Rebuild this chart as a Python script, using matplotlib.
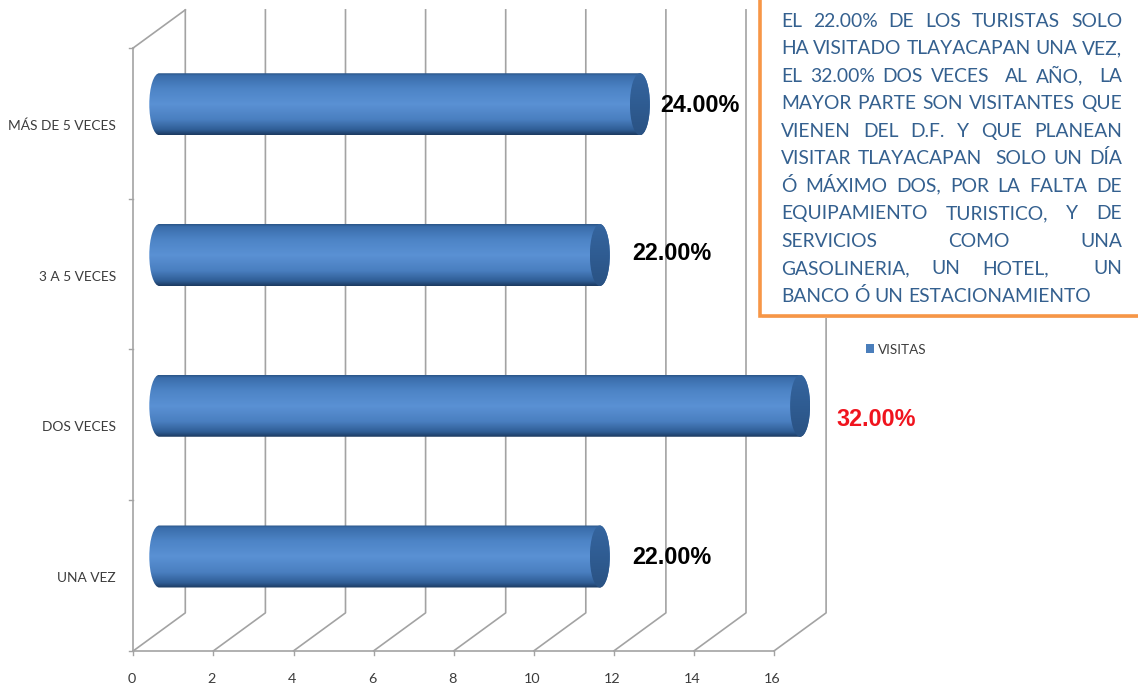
import numpy as np
import matplotlib
matplotlib.use("Agg")
import matplotlib.pyplot as plt
from matplotlib.patches import PathPatch, Ellipse, Rectangle, Patch
from matplotlib.path import Path
from matplotlib.colors import LinearSegmentedColormap

categories = ["UNA VEZ", "DOS VECES", "3 A 5 VECES", "MÁS DE 5 VECES"]
values = [11, 16, 11, 12]
value_labels = ["22.00%", "32.00%", "22.00%", "24.00%"]
value_colors = ["black", "#f0141e", "black", "black"]
x_ticks = list(range(0, 17, 2))
series_name = "VISITAS"
note_lines = [
    "EL 22.00% DE LOS TURISTAS SOLO",
    "HA VISITADO TLAYACAPAN UNA VEZ,",
    "EL 32.00% DOS VECES  AL AÑO,  LA",
    "MAYOR PARTE SON VISITANTES QUE",
    "VIENEN DEL D.F. Y QUE PLANEAN",
    "VISITAR TLAYACAPAN  SOLO UN DÍA",
    "Ó MÁXIMO DOS, POR LA FALTA DE",
    "EQUIPAMIENTO TURISTICO, Y DE",
    "SERVICIOS COMO UNA",
    "GASOLINERIA, UN HOTEL,  UN",
    "BANCO Ó UN ESTACIONAMIENTO",
]

W, H = 1138, 688
X0, XU = 133.3, 40.05     # pixel of x=0, pixels per x unit
Y0, YU = 575.5, 150.75    # pixel of category 0, pixels per category
DX, DY = 52 / XU, 38 / YU # depth of the 3D floor in data units
GRID = "#a3a3a3"

fig = plt.figure(figsize=(W / 100, H / 100), dpi=100, facecolor="white")
ax = fig.add_axes([0, 0, 1, 1])
ax.set_xlim(-X0 / XU, (W - X0) / XU)
ax.set_ylim((Y0 - H) / YU, Y0 / YU)
ax.axis("off")

def px(x, y):
    return (x - X0) / XU, (Y0 - y) / YU

ybot, ytop = -0.5, 3.5
for t in x_ticks:
    ax.plot([t, t + DX, t + DX], [ybot, ybot + DY, ytop + DY], color=GRID, lw=1.2, zorder=1)
    ax.plot([t, t], [ybot, ybot - 4 / YU], color=GRID, lw=1.0, zorder=1)
    ax.text(t - 1.5 / XU, px(0, 679)[1], str(t), ha="center", va="center", fontsize=10.4,
            family="Lato", color="#3c3c3c", zorder=6)
ax.plot([0, 0], [ybot, ytop], color=GRID, lw=1.2, zorder=1)
ax.plot([0, DX], [ytop, ytop + DY], color=GRID, lw=1.2, zorder=1)
ax.plot([0, x_ticks[-1]], [ybot, ybot], color=GRID, lw=1.2, zorder=1)
for b in np.arange(ybot, ytop + 0.5):
    ax.plot([0, -4 / XU], [b, b], color=GRID, lw=1.0, zorder=1)

cyl = LinearSegmentedColormap.from_list(
    "cyl", [(0, "#2a5688"), (0.04, "#3a6dab"), (0.25, "#4d84c6"), (0.5, "#5a91d4"),
            (0.75, "#4a7fc0"), (0.92, "#2f5d95"), (1, "#1c3a60")])
cap = LinearSegmentedColormap.from_list("cap", ["#35659f", "#2f5c92", "#2a5283"])

RX, RY = 10 / XU, 31 / YU
K = 0.5523
for i, (cat, v) in enumerate(zip(categories, values)):
    yc = i + DY / 2
    xl, xr = DX / 2, v + DX / 2
    verts = [(xl, yc + RY),
             (xr, yc + RY),
             (xr + K * RX, yc + RY), (xr + RX, yc + K * RY), (xr + RX, yc),
             (xr + RX, yc - K * RY), (xr + K * RX, yc - RY), (xr, yc - RY),
             (xl, yc - RY),
             (xl - K * RX, yc - RY), (xl - RX, yc - K * RY), (xl - RX, yc),
             (xl - RX, yc + K * RY), (xl - K * RX, yc + RY), (xl, yc + RY),
             (xl, yc + RY)]
    codes = [Path.MOVETO, Path.LINETO, Path.CURVE4, Path.CURVE4, Path.CURVE4,
             Path.CURVE4, Path.CURVE4, Path.CURVE4, Path.LINETO,
             Path.CURVE4, Path.CURVE4, Path.CURVE4, Path.CURVE4, Path.CURVE4, Path.CURVE4,
             Path.CLOSEPOLY]
    body = PathPatch(Path(verts, codes), facecolor="none", edgecolor="none", zorder=3)
    ax.add_patch(body)
    grad = np.linspace(0, 1, 128).reshape(-1, 1)
    im = ax.imshow(grad, cmap=cyl, aspect="auto", zorder=3, interpolation="bilinear",
                   extent=[xl - RX, xr + RX, yc - RY, yc + RY], origin="upper")
    im.set_clip_path(body)
    end = Ellipse((xr, yc), 2 * RX, 2 * RY, facecolor="none", edgecolor="none", zorder=4)
    ax.add_patch(end)
    im2 = ax.imshow(grad, cmap=cap, aspect="auto", zorder=4, interpolation="bilinear",
                    extent=[xr - RX, xr + RX, yc - RY, yc + RY], origin="upper")
    im2.set_clip_path(end)

ax.set_xlim(-X0 / XU, (W - X0) / XU)
ax.set_ylim((Y0 - H) / YU, Y0 / YU)

for i, cat in enumerate(categories):
    ax.text(px(116, 0)[0], i - 2.5 / YU, cat, ha="right", va="center", fontsize=9.9,
            family="Lato", color="#3c3c3c", zorder=6)

label_pos = [(632, 558), (836, 419), (632, 253), (660, 105)]
for (lx, ly), lab, col in zip(label_pos, value_labels, value_colors):
    x, y = px(lx, ly)
    ax.text(x, y, lab, ha="left", va="center", fontsize=16.8, fontweight="bold",
            family="Liberation Sans", color=col, zorder=6)

# note box
bx0, by0 = px(760, 316)
bx1, by1 = px(1150, -10)
sx, sy = 2 / XU, 2 / YU
ax.add_patch(Rectangle((bx0 + sx, by0 - sy), bx1 - bx0, by1 - by0, facecolor="#e6e6e6",
                       edgecolor="none", zorder=6.5))
ax.add_patch(Rectangle((bx0, by0), bx1 - bx0, by1 - by0, facecolor="white",
                       edgecolor="#f79646", lw=2.6, zorder=7))

fig.canvas.draw()
renderer = fig.canvas.get_renderer()
left_px, right_px = 781, 1122
space_px = 5.0
for n, line in enumerate(note_lines):
    baseline = 27 + n * 27.47
    # double spaces in the source text weigh double when justifying
    parts = line.replace("  ", " \t").split(" ")
    weights = [2 if p.startswith("\t") else 1 for p in parts[1:]]
    words = [p.strip() for p in parts]
    arts = [ax.text(0, px(0, baseline)[1], w, ha="left", va="baseline", fontsize=13.9,
                    family="Lato", color="#34608f", zorder=8) for w in words]
    widths = [a.get_window_extent(renderer).width for a in arts]
    last = n == len(note_lines) - 1
    unit = space_px if last else (right_px - left_px - sum(widths)) / max(sum(weights), 1)
    cur = left_px
    for k, (a, w) in enumerate(zip(arts, widths)):
        a.set_x(px(cur, 0)[0])
        cur += w + (unit * weights[k] if k < len(weights) else 0)

leg = ax.legend(handles=[Patch(facecolor="#4a7ebb", label=series_name)],
                loc="center left", bbox_to_anchor=(853.5 / W, 1 - 349.5 / H),
                bbox_transform=fig.transFigure, frameon=False, handlelength=0.62,
                handleheight=0.62, handletextpad=0.32, borderpad=0.4,
                prop={"family": "Lato", "size": 9.7}, labelcolor="#3c3c3c")
leg.set_zorder(9)

fig.savefig("out.png", dpi=100)
